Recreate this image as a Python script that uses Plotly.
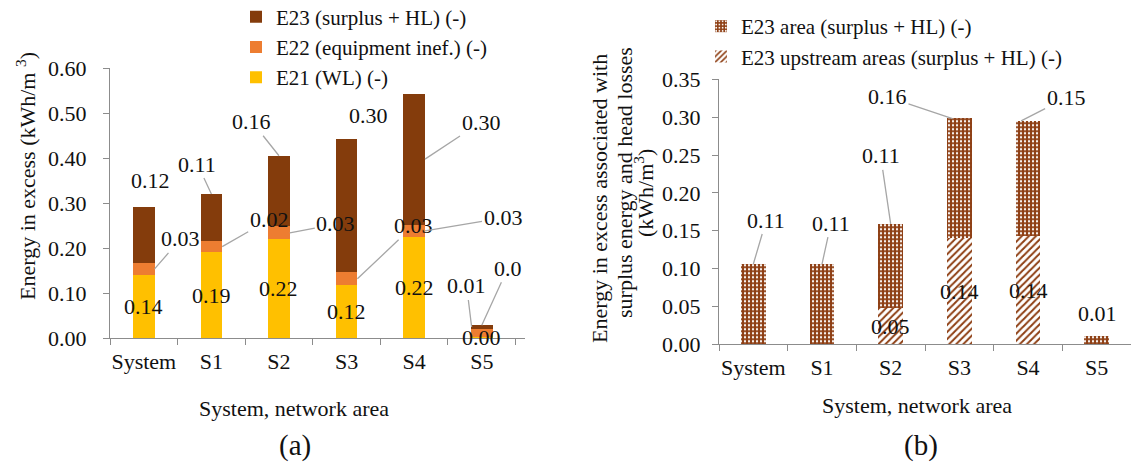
import plotly.graph_objects as go

# ---------------- data ----------------
cats = ["System", "S1", "S2", "S3", "S4", "S5"]

e21 = [0.141, 0.191, 0.219, 0.117, 0.224, 0.002]
e22 = [0.025, 0.024, 0.029, 0.029, 0.028, 0.017]
e23 = [0.125, 0.105, 0.157, 0.297, 0.291, 0.0095]
e21_lbl = ["0.14", "0.19", "0.22", "0.12", "0.22", "0.00"]
e22_lbl = ["0.03", "0.02", "0.03", "0.03", "0.03", "0.0"]
e23_lbl = ["0.12", "0.11", "0.16", "0.30", "0.30", "0.01"]

area = [0.106, 0.106, 0.111, 0.158, 0.153, 0.010]
upstream = [0.0, 0.0, 0.048, 0.140, 0.142, 0.0]
area_lbl = ["0.11", "0.11", "0.11", "0.16", "0.15", "0.01"]
up_lbl = ["", "", "0.05", "0.14", "0.14", ""]

yticks_a = [0.0, 0.1, 0.2, 0.3, 0.4, 0.5, 0.6]
yticks_b = [0.0, 0.05, 0.10, 0.15, 0.20, 0.25, 0.30, 0.35]

# ---------------- style ----------------
W, H = 1131, 465
FONT = "Liberation Serif, Times New Roman, DejaVu Serif, serif"
TXT = "#111111"
BROWN = "#843C0C"
ORANGE = "#ED7D31"
YELLOW = "#FFC000"
BROWN2 = "#8E3F14"
AXC = "#8C8C8C"
LEAD = "#A6A6A6"
FS = 22


def px(x):
    return x / W


def py(y):
    return 1 - y / H


fig = go.Figure()

# chart (a)
fig.add_trace(go.Bar(x=cats, y=e21, name="E21 (WL) (-)", marker=dict(color=YELLOW, line_width=0),
                     width=0.32, xaxis="x", yaxis="y", legend="legend"))
fig.add_trace(go.Bar(x=cats, y=e22, name="E22 (equipment inef.) (-)", marker=dict(color=ORANGE, line_width=0),
                     width=0.32, xaxis="x", yaxis="y", legend="legend"))
fig.add_trace(go.Bar(x=cats, y=e23, name="E23 (surplus + HL) (-)", marker=dict(color=BROWN, line_width=0),
                     width=0.32, xaxis="x", yaxis="y", legend="legend"))

# chart (b)
fig.add_trace(go.Bar(x=cats, y=upstream, name="E23 upstream areas (surplus + HL) (-)",
                     marker=dict(color="white", line_width=0,
                                 pattern=dict(shape="/", fgcolor=BROWN2, bgcolor="white",
                                              size=5, solidity=0.4, fillmode="replace")),
                     width=0.36, xaxis="x2", yaxis="y2", legend="legend2"))
fig.add_trace(go.Bar(x=cats, y=area, name="E23 area (surplus + HL) (-)",
                     marker=dict(color=BROWN2, line_width=0,
                                 pattern=dict(shape=".", fgcolor="white", bgcolor=BROWN2,
                                              size=4, solidity=0.25, fillmode="replace")),
                     width=0.36, xaxis="x2", yaxis="y2", legend="legend2"))

ann = []


def lab(xr, yr, x, y, text, ax=None, ay=None, xs=0, ys=0):
    d = dict(xref=xr, yref=yr, x=x, y=y, text=text, xanchor="center", yanchor="middle",
             font=dict(family=FONT, size=FS, color=TXT))
    if ax is None:
        d.update(showarrow=False, xshift=xs, yshift=ys)
    else:
        d.update(showarrow=True, ax=ax, ay=ay, arrowhead=0, arrowwidth=1.3,
                 arrowcolor=LEAD, standoff=0, startstandoff=0)
    ann.append(d)


BE = 0.16  # bar edge offset (category units)
# E21 inside labels
for i in range(6):
    lab("x", "y", i, e21[i] / 2, e21_lbl[i])
# E22 labels with leaders
e22_off = [(26, -30), (47, -27), (46, -9), (56, -53), (78, -13)]
for i, (ax, ay) in enumerate(e22_off):
    lab("x", "y", i + BE, e21[i] + e22[i] / 2, e22_lbl[i], ax, ay)
# E23 labels
tops = [e21[i] + e22[i] + e23[i] for i in range(6)]
lab("x", "y", 0, tops[0], e23_lbl[0], xs=7, ys=27)
lab("x", "y", 1, tops[1], e23_lbl[1], -14, -30)
lab("x", "y", 2, tops[2], e23_lbl[2], -27, -34)
lab("x", "y", 3, tops[3], e23_lbl[3], xs=22, ys=23)
lab("x", "y", 4 + BE, e21[4] + e22[4] + e23[4] / 2, e23_lbl[4], 56, -37)
lab("x", "y", 5 - 0.15, tops[5] - 0.004, e23_lbl[5], -5, -41)
lab("x", "y", 5, tops[5], e22_lbl[5], 26, -57)

# chart (b) labels
btop = [area[i] + upstream[i] for i in range(6)]
lab("x2", "y2", 0, btop[0], area_lbl[0], 13, -44)
lab("x2", "y2", 1, btop[1], area_lbl[1], 9, -41)
lab("x2", "y2", 2, btop[2], area_lbl[2], -10, -68)
lab("x2", "y2", 3 - 0.1, btop[3], area_lbl[3], -65, -22)
lab("x2", "y2", 4 - 0.1, btop[4], area_lbl[4], 45, -23)
lab("x2", "y2", 5, btop[5], area_lbl[5], xs=1, ys=23)
for i in range(6):
    if up_lbl[i]:
        lab("x2", "y2", i, upstream[i] / 2, up_lbl[i])


def title(x, y, text, size=FS, angle=0):
    ann.append(dict(xref="paper", yref="paper", x=px(x), y=py(y), text=text, textangle=angle,
                    xanchor="center", yanchor="middle", showarrow=False,
                    font=dict(family=FONT, size=size, color=TXT)))


title(26, 176, "Energy in excess (kWh/m <sup>3</sup>)", angle=-90)
title(599, 199, "Energy in excess associated with", angle=-90)
title(624, 183, "surplus energy and head losses", angle=-90)
title(644, 193, "(kWh/m<sup>3</sup>)", angle=-90)
title(294, 408, "System, network area")
title(917, 405, "System, network area")
title(295, 445, "(a)", size=29)
title(921, 445, "(b)", size=29)

axis_common = dict(showline=True, linecolor=AXC, linewidth=1.3, ticks="outside", tickcolor=AXC,
                   tickwidth=1.3, ticklen=6, showgrid=False, zeroline=False,
                   tickfont=dict(family=FONT, size=FS, color=TXT))

fig.update_layout(
    width=W, height=H, autosize=False,
    margin=dict(l=0, r=0, t=0, b=0, autoexpand=False),
    paper_bgcolor="white", plot_bgcolor="white",
    barmode="stack", bargap=0.0,
    font=dict(family=FONT, size=FS, color=TXT),
    xaxis=dict(domain=[px(110), px(524.5)], anchor="y", type="category", tickson="boundaries",
               tickangle=0, ticklabelstandoff=3, automargin=False, **axis_common),
    yaxis=dict(domain=[py(338), py(68)], anchor="x", range=[0, 0.6], tickvals=yticks_a,
               tickformat=".2f", ticklabelstandoff=12, automargin=False, **axis_common),
    xaxis2=dict(domain=[px(719), 1.0], anchor="y2", type="category", tickson="boundaries",
                tickangle=0, ticklabelstandoff=3, automargin=False, **axis_common),
    yaxis2=dict(domain=[py(344.3), py(79.3)], anchor="x2", range=[0, 0.35], tickvals=yticks_b,
                tickformat=".2f", ticklabelstandoff=7, automargin=False, **axis_common),
    legend=dict(x=px(236), y=py(-3.5), xanchor="left", yanchor="top", traceorder="reversed",
                font=dict(family=FONT, size=21, color=TXT), bgcolor="rgba(0,0,0,0)", borderwidth=0),
    legend2=dict(x=px(701), y=py(6), xanchor="left", yanchor="top", traceorder="reversed",
                 font=dict(family=FONT, size=21, color=TXT), bgcolor="rgba(0,0,0,0)", borderwidth=0),
    annotations=ann,
    showlegend=True,
)

fig.write_html("out.html", config={"displayModeBar": False},
               post_script="document.body.style.margin='0';document.body.style.padding='0';")
